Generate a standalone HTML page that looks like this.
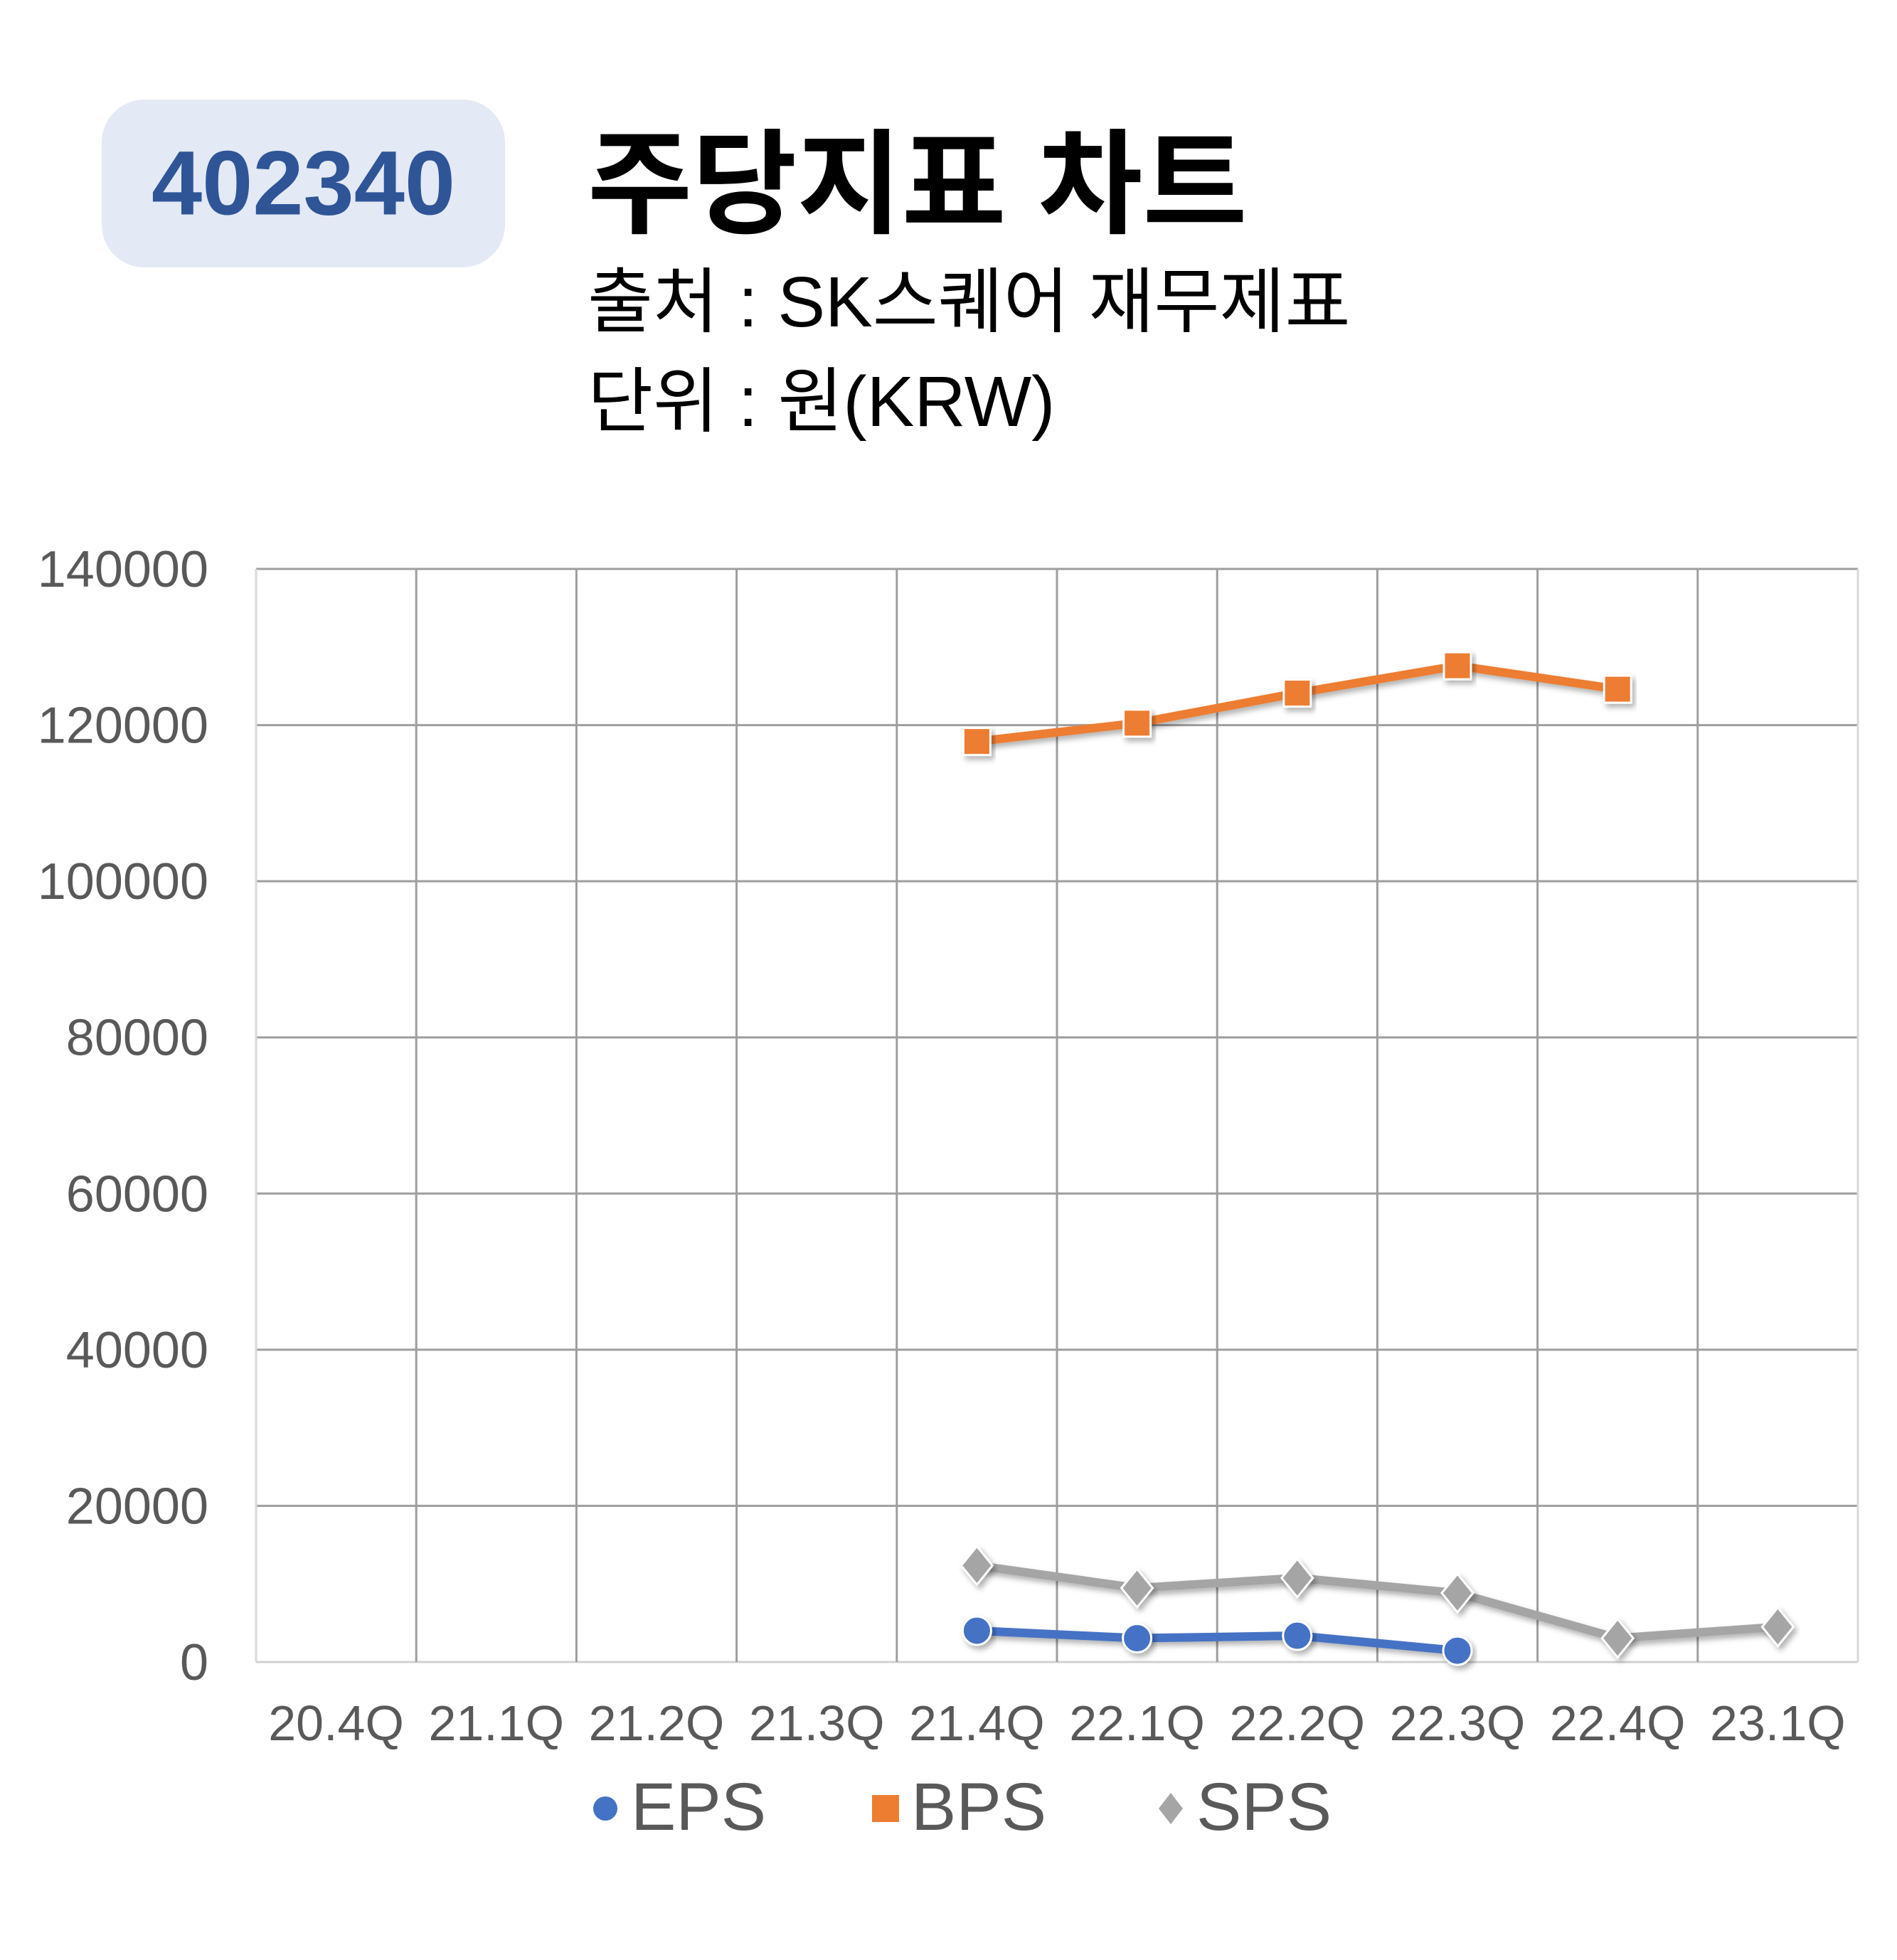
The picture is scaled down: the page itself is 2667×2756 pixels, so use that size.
<!DOCTYPE html>
<html><head><meta charset="utf-8">
<style>
html,body{margin:0;padding:0;background:#fff;}
body{width:2667px;height:2756px;position:relative;overflow:hidden;font-family:"Liberation Sans","Noto Sans CJK KR",sans-serif;}
.badge{position:absolute;left:143px;top:140px;width:567px;height:236px;border-radius:60px;background:#e3e9f5;}
.badge span{position:absolute;left:0;right:0;top:50%;transform:translateY(-50%);text-align:center;color:#2f5597;font-weight:bold;font-size:128px;}
.t{position:absolute;left:826px;color:#000;white-space:nowrap;}
</style></head><body>
<div class="badge"><span>402340</span></div>
<div class="t" style="top:170px;font-size:160px;font-weight:bold;line-height:180px;">주당지표 차트</div>
<div class="t" style="top:365px;font-size:100px;line-height:120px;">출처 : SK스퀘어 재무제표</div>
<div class="t" style="top:505px;font-size:100px;line-height:120px;">단위 : 원(KRW)</div>
<svg id="chart" width="2667" height="2756" style="position:absolute;left:0;top:0">
<defs><filter id="sh" x="-20%" y="-50%" width="140%" height="200%"><feDropShadow dx="4" dy="5" stdDeviation="4" flood-color="#000" flood-opacity="0.3"/></filter></defs>
</svg>
<script>
const categories=["20.4Q","21.1Q","21.2Q","21.3Q","21.4Q","22.1Q","22.2Q","22.3Q","22.4Q","23.1Q"];
const yTicks=[0,20000,40000,60000,80000,100000,120000,140000];
const eps=[null,null,null,null,4010,3050,3370,1450,null,null];
const bps=[null,null,null,null,117900,120250,124100,127600,124600,null];
const sps=[null,null,null,null,12360,9470,10760,8830,3050,4500];
const L=360,R=2612,T=800,B=2337,YMAX=140000;
const svg=document.getElementById('chart');
const NS='http://www.w3.org/2000/svg';
const step=(R-L)/categories.length;
function xs(i){return L+(i+0.5)*step;}
function ys(v){return B-(v/YMAX)*(B-T);}
function mk(tag,attrs){const e=document.createElementNS(NS,tag);for(const k in attrs)e.setAttribute(k,attrs[k]);svg.appendChild(e);return e;}
// grid
yTicks.forEach(v=>{
 const g=mk('line',{x1:L,x2:R,y1:ys(v),y2:ys(v),stroke:v===0?'#d0d0d0':'#9e9e9e','stroke-width':3});
 
 
 const t=mk('text',{x:293,y:ys(v)+25,'text-anchor':'end','font-size':72,fill:'#595959','font-family':'Liberation Sans, sans-serif'});
 t.textContent=v;
 
 
});
for(let i=0;i<=categories.length;i++){
 const x=L+i*step;
 const g=mk('line',{x1:x,x2:x,y1:T,y2:B,stroke:(i===0||i===categories.length)?'#d9d9d9':'#9e9e9e','stroke-width':3});
 
 
}
categories.forEach((c,i)=>{
 const t=mk('text',{x:xs(i),y:2447,'text-anchor':'middle','font-size':70,fill:'#595959','font-family':'Liberation Sans, sans-serif'});
 t.textContent=c;
 
 
});
function series(vals,color,shape,name){
 let pts=[];vals.forEach((v,i)=>{if(v!==null)pts.push([xs(i),ys(v)]);});
 const p=mk('polyline',{points:pts.map(p=>p.join(',')).join(' '),fill:'none',stroke:color,'stroke-width':12,'stroke-linejoin':'round',filter:'url(#sh)'});
 
 
 pts.forEach(([x,y])=>{
  let m;
  if(shape==='circle')m=mk('circle',{cx:x,cy:y,r:20,fill:color,stroke:'#fff','stroke-width':3,filter:'url(#sh)'});
  else if(shape==='square')m=mk('rect',{x:x-19,y:y-19,width:38,height:38,fill:color,stroke:'#fff','stroke-width':3,filter:'url(#sh)'});
  else m=mk('polygon',{points:`${x},${y-27} ${x+22},${y} ${x},${y+27} ${x-22},${y}`,fill:color,stroke:'#fff','stroke-width':3,filter:'url(#sh)'});
  
  
 });
}
series(bps,'#ed7d31','square','bps');
series(sps,'#a5a5a5','diamond','sps');
series(eps,'#4472c4','circle','eps');
// legend
const leg=[["EPS",'#4472c4','circle',851,887],["BPS",'#ed7d31','square',1245,1281],["SPS",'#a5a5a5','diamond',1646,1682]];
leg.forEach(([n,c,s,mx,tx])=>{
 const y=2543;let m;
 if(s==='circle')m=mk('circle',{cx:mx,cy:y,r:17,fill:c});
 else if(s==='square')m=mk('rect',{x:mx-19,y:y-19,width:38,height:38,fill:c});
 else m=mk('polygon',{points:`${mx},${y-22} ${mx+17},${y} ${mx},${y+22} ${mx-17},${y}`,fill:c});
 
 
 const t=mk('text',{x:tx,y:2573,'font-size':95,fill:'#595959','font-family':'Liberation Sans, sans-serif'});
 t.textContent=n;
 
 
});
</script>
</body></html>
